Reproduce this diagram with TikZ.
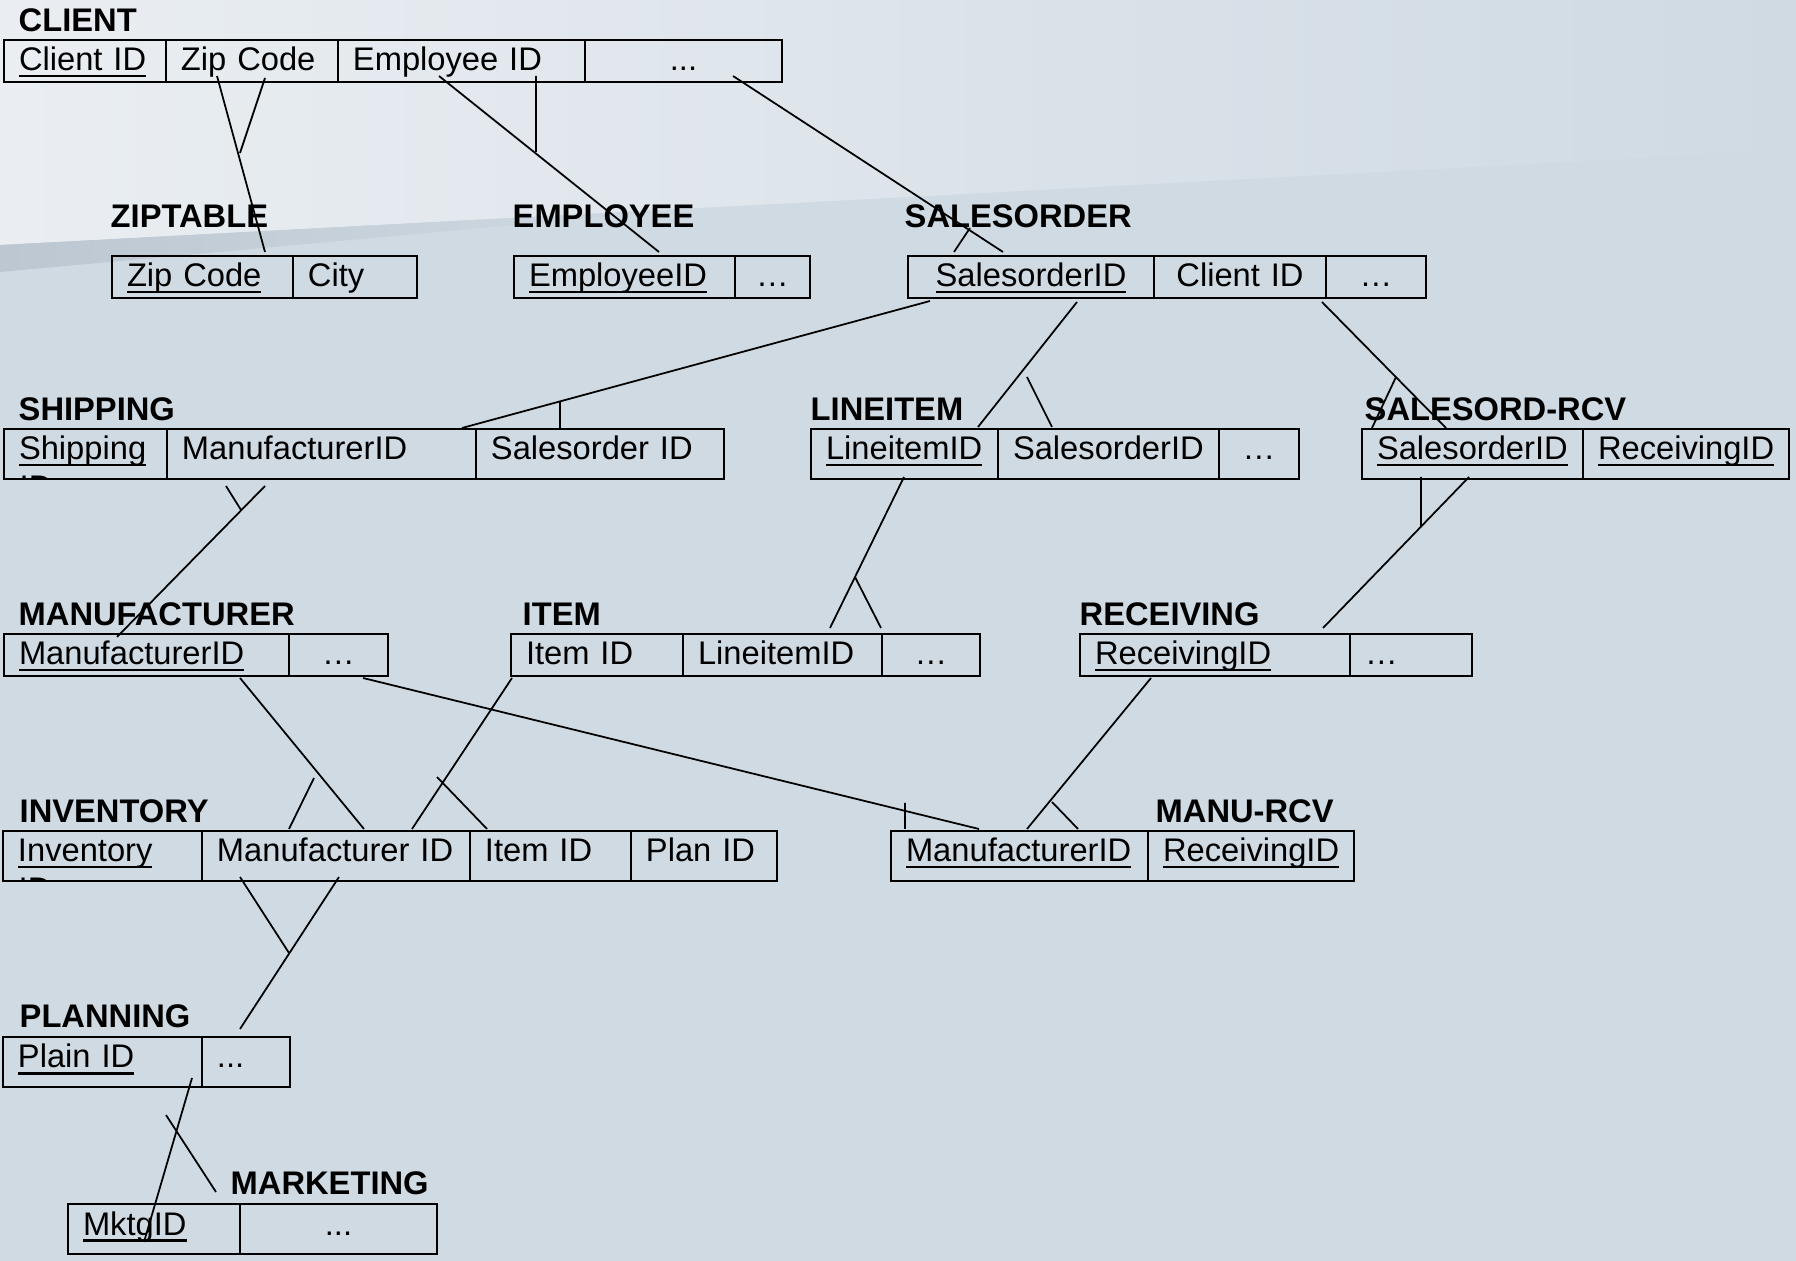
\documentclass[tikz,border=0pt]{standalone}
\usepackage{fontspec}
\setmainfont{Liberation Sans}
\usetikzlibrary{positioning}
\definecolor{bgmain}{RGB}{207,218,227}
\definecolor{bglight}{RGB}{234,238,242}
\definecolor{bgstreak}{RGB}{188,199,209}
\newcommand{\erfont}{\fontsize{9.3pt}{11.2pt}\selectfont}
\newcommand{\keyf}[1]{\setbox0\hbox{#1}\rlap{\rule[-1.85pt]{\wd0}{0.8pt}}\box0}
\tikzset{
  tbltitle/.style = {font=\erfont\bfseries, anchor=base west, inner sep=0pt},
  cell/.style = {draw, line width=0.75pt, outer sep=0pt, inner xsep=0.15cm,
                 inner ysep=0pt, text height=0.31cm, align=left, font=\erfont},
  short/.style = {text depth=0.11cm},
  tall/.style = {text depth=0.19cm},
  mid/.style = {align=center},
  link/.style = {line width=0.5pt}
}

\begin{document}
\begin{tikzpicture}[x=0.1mm, y=-0.1mm]
\useasboundingbox (0,0) rectangle (1796,1261);
% background
\fill[bgmain] (0,0) rectangle (1796,1261);
\shade[left color=bglight, right color=bgmain] (0,0) -- (1796,0) -- (1796,150) -- (0,245) -- cycle;
\shade[left color=bgstreak, right color=bgmain] (0,245) -- (700,208) -- (0,272) -- cycle;

% CLIENT
\node[tbltitle] (client) at (18,32) {CLIENT};
\node[cell, short, text width=1.32cm, anchor=north west] (cl-id) at (4,40) {\keyf{Client ID}};
\node[cell, short, text width=1.42cm, right=0pt of cl-id] (cl-zip) {Zip Code};
\node[cell, short, text width=2.17cm, right=0pt of cl-zip] (cl-emp) {Employee ID};
\node[cell, short, mid, text width=1.67cm, right=0pt of cl-emp] (cl-more) {...};

% ZIPTABLE
\node[tbltitle] (ziptable) at (110,228) {ZIPTABLE};
\node[cell, short, text width=1.51cm, anchor=north west] (zt-zip) at (112,256) {\keyf{Zip Code}};
\node[cell, short, text width=0.94cm, right=0pt of zt-zip] (zt-city) {City};

% EMPLOYEE
\node[tbltitle] (employee) at (512,228) {EMPLOYEE};
\node[cell, short, text width=1.91cm, anchor=north west] (em-id) at (514,256) {\keyf{EmployeeID}};
\node[cell, short, mid, text width=0.45cm, right=0pt of em-id] (em-more) {…};

% SALESORDER
\node[tbltitle] (salesorder) at (904,228) {SALESORDER};
\node[cell, short, mid, text width=2.16cm, anchor=north west] (so-id) at (908,256) {\keyf{SalesorderID}};
\node[cell, short, mid, text width=1.42cm, right=0pt of so-id] (so-client) {Client ID};
\node[cell, short, mid, text width=0.70cm, right=0pt of so-client] (so-more) {…};

% SHIPPING
\node[tbltitle] (shipping) at (18,421) {SHIPPING};
\node[cell, tall, text width=1.33cm, anchor=north west] (sh-id) at (4,429) {\keyf{Shipping}};
\node[cell, tall, text width=2.79cm, right=0pt of sh-id] (sh-manu) {ManufacturerID};
\node[cell, tall, text width=2.18cm, right=0pt of sh-manu] (sh-so) {Salesorder ID};
\begin{scope}
  \clip (sh-id.south west) rectangle (sh-id.north east);
  \node[anchor=base west, inner sep=0pt, font=\erfont] (sh-id2) at (19,499) {\keyf{ID}};
\end{scope}

% LINEITEM
\node[tbltitle] (lineitem) at (810,421) {LINEITEM};
\node[cell, tall, text width=1.57cm, anchor=north west] (li-id) at (811,429) {\keyf{LineitemID}};
\node[cell, tall, text width=1.91cm, right=0pt of li-id] (li-so) {SalesorderID};
\node[cell, tall, mid, text width=0.50cm, right=0pt of li-so] (li-more) {…};

% SALESORD-RCV
\node[tbltitle] (salesordrcv) at (1364,421) {SALESORD-RCV};
\node[cell, tall, text width=1.91cm, anchor=north west] (sr-so) at (1362,429) {\keyf{SalesorderID}};
\node[cell, tall, text width=1.76cm, right=0pt of sr-so] (sr-rcv) {\keyf{ReceivingID}};

% MANUFACTURER
\node[tbltitle] (manufacturer) at (18,626) {MANUFACTURER};
\node[cell, short, text width=2.55cm, anchor=north west] (mf-id) at (4,634) {\keyf{ManufacturerID}};
\node[cell, short, mid, text width=0.69cm, right=0pt of mf-id] (mf-more) {…};

% ITEM
\node[tbltitle] (item) at (522,626) {ITEM};
\node[cell, short, text width=1.42cm, anchor=north west] (it-id) at (511,634) {Item ID};
\node[cell, short, text width=1.69cm, right=0pt of it-id] (it-li) {LineitemID};
\node[cell, short, mid, text width=0.68cm, right=0pt of it-li] (it-more) {…};

% RECEIVING
\node[tbltitle] (receiving) at (1079,626) {RECEIVING};
\node[cell, short, text width=2.40cm, anchor=north west] (rc-id) at (1080,634) {\keyf{ReceivingID}};
\node[cell, short, text width=0.92cm, right=0pt of rc-id] (rc-more) {…};

% INVENTORY
\node[tbltitle] (inventory) at (19,823) {INVENTORY};
\node[cell, tall, text width=1.69cm, anchor=north west] (in-id) at (3,831) {\keyf{Inventory}};
\node[cell, tall, text width=2.38cm, right=0pt of in-id] (in-manu) {\mbox{Manufacturer ID}};
\node[cell, tall, text width=1.31cm, right=0pt of in-manu] (in-item) {Item ID};
\node[cell, tall, text width=1.16cm, right=0pt of in-item] (in-plan) {Plan ID};
\begin{scope}
  \clip (in-id.south west) rectangle (in-id.north east);
  \node[anchor=base west, inner sep=0pt, font=\erfont] (in-id2) at (18,901) {\keyf{ID}};
\end{scope}

% MANU-RCV
\node[tbltitle] (manurcv) at (1155,823) {MANU-RCV};
\node[cell, tall, text width=2.27cm, anchor=north west] (mr-manu) at (891,831) {\keyf{ManufacturerID}};
\node[cell, tall, text width=1.76cm, right=0pt of mr-manu] (mr-rcv) {\keyf{ReceivingID}};

% PLANNING
\node[tbltitle] (planning) at (19,1028) {PLANNING};
\node[cell, tall, text width=1.69cm, anchor=north west] (pl-id) at (3,1037) {\keyf{Plain ID}};
\node[cell, tall, text width=0.58cm, right=0pt of pl-id] (pl-more) {...};

% MARKETING
\node[tbltitle] (marketing) at (230,1195) {MARKETING};
\node[cell, tall, text width=1.42cm, anchor=north west] (mk-id) at (68,1204) {\keyf{MktgID}};
\node[cell, tall, mid, text width=1.67cm, right=0pt of mk-id] (mk-more) {...};

% relationships (crow's feet drawn as extra strokes)
\path (217,76) coordinate (zip-a) (265,252) coordinate (zip-b) (265,78) coordinate (zip-c) (240,153) coordinate (zip-d);
\draw[link] (zip-a) -- (zip-b) (zip-c) -- (zip-d);
\path (439,76) coordinate (emp-a) (659,252) coordinate (emp-b) (536,76) coordinate (emp-c) (536,152) coordinate (emp-d);
\draw[link] (emp-a) -- (emp-b) (emp-c) -- (emp-d);
\path (733,76) coordinate (cso-a) (1003,252) coordinate (cso-b) (954,252) coordinate (cso-c) (970,228) coordinate (cso-d);
\draw[link] (cso-a) -- (cso-b) (cso-c) -- (cso-d);
\path (930,301) coordinate (shp-a) (462,428) coordinate (shp-b) (560,401) coordinate (shp-c) (560,428) coordinate (shp-d);
\draw[link] (shp-a) -- (shp-b) (shp-c) -- (shp-d);
\path (1077,302) coordinate (lin-a) (978,427) coordinate (lin-b) (1027,377) coordinate (lin-c) (1052,427) coordinate (lin-d);
\draw[link] (lin-a) -- (lin-b) (lin-c) -- (lin-d);
\path (1322,302) coordinate (sor-a) (1446,428) coordinate (sor-b) (1396,377) coordinate (sor-c) (1372,428) coordinate (sor-d);
\draw[link] (sor-a) -- (sor-b) (sor-c) -- (sor-d);
\path (1469,477) coordinate (rcv-a) (1323,628) coordinate (rcv-b) (1421,477) coordinate (rcv-c) (1421,527) coordinate (rcv-d);
\draw[link] (rcv-a) -- (rcv-b) (rcv-c) -- (rcv-d);
\path (904,477) coordinate (itm-a) (830,628) coordinate (itm-b) (855,577) coordinate (itm-c) (881,628) coordinate (itm-d);
\draw[link] (itm-a) -- (itm-b) (itm-c) -- (itm-d);
\path (265,486) coordinate (mfs-a) (117,637) coordinate (mfs-b) (226,486) coordinate (mfs-c) (241,510) coordinate (mfs-d);
\draw[link] (mfs-a) -- (mfs-b) (mfs-c) -- (mfs-d);
\path (240,678) coordinate (inm-a) (364,829) coordinate (inm-b) (314,778) coordinate (inm-c) (289,829) coordinate (inm-d);
\draw[link] (inm-a) -- (inm-b) (inm-c) -- (inm-d);
\path (512,678) coordinate (ini-a) (412,829) coordinate (ini-b) (437,777) coordinate (ini-c) (487,829) coordinate (ini-d);
\draw[link] (ini-a) -- (ini-b) (ini-c) -- (ini-d);
\path (363,678) coordinate (mrm-a) (979,829) coordinate (mrm-b) (905,803) coordinate (mrm-c) (905,829) coordinate (mrm-d);
\draw[link] (mrm-a) -- (mrm-b) (mrm-c) -- (mrm-d);
\path (1151,678) coordinate (mrr-a) (1027,829) coordinate (mrr-b) (1052,802) coordinate (mrr-c) (1078,829) coordinate (mrr-d);
\draw[link] (mrr-a) -- (mrr-b) (mrr-c) -- (mrr-d);
\path (339,877) coordinate (pln-a) (240,1029) coordinate (pln-b) (240,877) coordinate (pln-c) (289,953) coordinate (pln-d);
\draw[link] (pln-a) -- (pln-b) (pln-c) -- (pln-d);
\path (192,1078) coordinate (mkt-a) (144,1242) coordinate (mkt-b) (166,1115) coordinate (mkt-c) (216,1192) coordinate (mkt-d);
\draw[link] (mkt-a) -- (mkt-b) (mkt-c) -- (mkt-d);
\end{tikzpicture}
\end{document}
